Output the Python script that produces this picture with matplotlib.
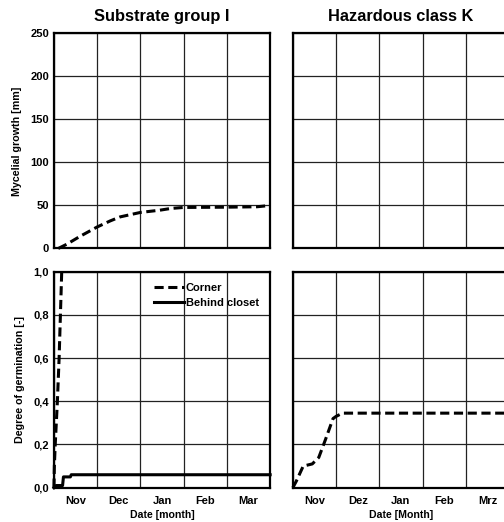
import numpy as np
import matplotlib
matplotlib.use("Agg")
import matplotlib.pyplot as plt
from matplotlib.ticker import FixedLocator, FuncFormatter

plt.rcParams['font.family'] = ['Liberation Sans', 'DejaVu Sans']
plt.rcParams['font.weight'] = 'bold'

##------------- data (x in months since 1 Nov) -----------------
months_en = ['Nov', 'Dec', 'Jan', 'Feb', 'Mar']
months_de = ['Nov', 'Dez', 'Jan', 'Feb', 'Mrz']

# mycelial growth, substrate group I, corner
myc_x = [0.1, 0.3, 0.6, 1.0, 1.3, 1.53, 2.0, 2.45, 2.7, 3.0, 4.0, 4.7, 5.0]
myc_y = [0.0, 5.0, 14.0, 25.0, 32.0, 36.7, 41.9, 44.5, 46.5, 47.7, 48.0, 48.5, 50.0]

# germination, substrate group I
corner_x = [0.0, 0.01, 0.03, 0.08, 0.12, 0.15, 0.18]
corner_y = [0.0, 0.1, 0.2, 0.4, 0.6, 0.8, 1.0]
closet_x = [0.0, 0.05, 0.2, 0.22, 0.38, 0.4, 5.0]
closet_y = [0.0, 0.01, 0.01, 0.05, 0.05, 0.06, 0.06]

# germination, hazardous class K
hk_x = [0.0, 0.08, 0.24, 0.45, 0.6, 0.75, 0.93, 1.0, 1.15, 5.0]
hk_y = [0.0, 0.03, 0.1, 0.11, 0.14, 0.22, 0.32, 0.33, 0.345, 0.345]


def setup(ax, ymax, ystep, fmt, labels, ylab=True, xlab=True):
    ax.set_xlim(0, 5)
    ax.set_ylim(0, ymax)
    ax.xaxis.set_major_locator(FixedLocator(np.arange(0, 6)))
    ax.xaxis.set_minor_locator(FixedLocator(np.arange(0.5, 5, 1)))
    ax.yaxis.set_major_locator(FixedLocator(np.arange(0, ymax + ystep / 2, ystep)))
    ax.grid(True, which='major', color='#222222', lw=0.9)
    ax.tick_params(which='both', length=0, labelsize=8)
    ax.xaxis.set_major_formatter(FuncFormatter(lambda v, p: ''))
    if xlab:
        ax.xaxis.set_minor_formatter(FuncFormatter(lambda v, p: labels[int(v)]))
    ax.tick_params(axis='x', which='minor', pad=6)
    if ylab:
        ax.yaxis.set_major_formatter(FuncFormatter(fmt))
    else:
        ax.set_yticklabels([])
    for s in ax.spines.values():
        s.set_linewidth(1.6)
        s.set_zorder(5)


fig = plt.figure(figsize=(5.04, 5.22), dpi=100)

ax1 = fig.add_axes([0.107, 0.524, 0.429, 0.412])
ax2 = fig.add_axes([0.581, 0.524, 0.429, 0.412])
ax3 = fig.add_axes([0.107, 0.0657, 0.429, 0.414])
ax4 = fig.add_axes([0.581, 0.0657, 0.429, 0.414])

intfmt = lambda v, p: '%d' % v
comfmt = lambda v, p: ('%.1f' % v).replace('.', ',')

setup(ax1, 250, 50, intfmt, months_en, xlab=False)
setup(ax2, 250, 50, intfmt, months_de, ylab=False, xlab=False)
setup(ax3, 1.0, 0.2, comfmt, months_en)
setup(ax4, 1.0, 0.2, comfmt, months_de, ylab=False)

ax1.plot(myc_x, myc_y, '--', color='black', lw=2.2, dashes=(3, 1.5), clip_on=False)

ax3.plot(corner_x, corner_y, '--', color='black', lw=2.2, dashes=(3, 1.5), label='Corner', clip_on=False)
ax3.plot(closet_x, closet_y, '-', color='black', lw=2.2, label='Behind closet', clip_on=False)
ax3.legend(loc='upper right', frameon=False, fontsize=8, handlelength=2.7,
           handletextpad=0.2, borderaxespad=0.6, labelspacing=0.45)

ax4.plot(hk_x, hk_y, '--', color='black', lw=2.2, dashes=(3, 1.5), clip_on=False)

ax1.set_title('Substrate group I', fontsize=11.8, fontweight='bold', pad=9)
ax2.set_title('Hazardous class K', fontsize=11.8, fontweight='bold', pad=9)
ax1.set_ylabel('Mycelial growth [mm]', fontsize=7.7, fontweight='bold', labelpad=6)
ax3.set_ylabel('Degree of germination [-]', fontsize=7.7, fontweight='bold', labelpad=6)
ax3.set_xlabel('Date [month]', fontsize=7.6, fontweight='bold', labelpad=3)
ax4.set_xlabel('Date [Month]', fontsize=7.6, fontweight='bold', labelpad=3)

fig.savefig('out.png', dpi=100)
